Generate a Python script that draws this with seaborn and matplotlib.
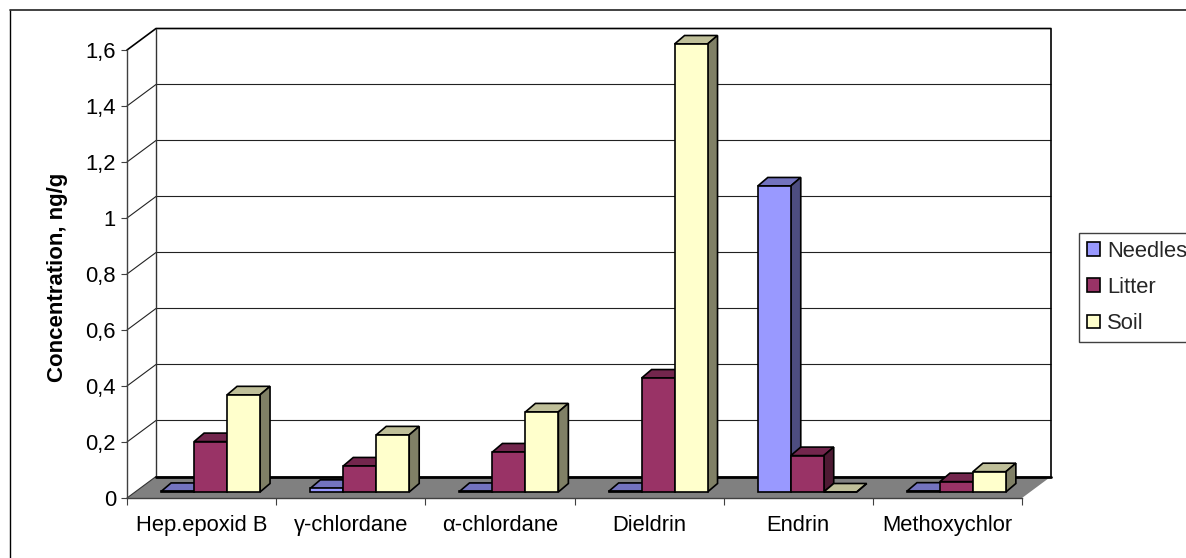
import matplotlib
matplotlib.use("Agg")
import matplotlib.pyplot as plt
import pandas as pd
import seaborn as sns
from matplotlib.lines import Line2D
from matplotlib.patches import Polygon

compounds = ["Hep.epoxid B", "γ-chlordane", "α-chlordane", "Dieldrin", "Endrin", "Methoxychlor"]
needles = [0.002, 0.013, 0.002, 0.002, 1.093, 0.003]
litter = [0.18, 0.093, 0.143, 0.407, 0.13, 0.037]
soil = [0.347, 0.204, 0.286, 1.6, 0.0, 0.0725]
y_ticks = [0, 0.2, 0.4, 0.6, 0.8, 1, 1.2, 1.4, 1.6]
y_tick_labels = ["0", "0,2", "0,4", "0,6", "0,8", "1", "1,2", "1,4", "1,6"]

# front, top and side colours of the fake 3d bars
front = {"Needles": "#9999FF", "Litter": "#993366", "Soil": "#FFFFCC"}
top = {"Needles": "#7373BF", "Litter": "#73264D", "Soil": "#BFBF99"}
side = {"Needles": "#4D4D80", "Litter": "#4D1A33", "Soil": "#808066"}

W, H = 1186, 558
df = pd.DataFrame({"compound": compounds, "Needles": needles, "Litter": litter, "Soil": soil})
long_df = df.melt(id_vars="compound", var_name="medium", value_name="conc")

sns.set_theme(style="white")
plt.rcParams["font.family"] = ["Liberation Sans", "DejaVu Sans"]

fig = plt.figure(figsize=(W / 100, H / 100), dpi=100)
ax = fig.add_axes([127 / W, 1 - 498 / H, (1022 - 127) / W, (498 - 50) / H])

sns.barplot(data=long_df, x="compound", y="conc", hue="medium", palette=front,
            hue_order=list(front), width=0.663, gap=0, saturation=1, edgecolor="black",
            linewidth=1.2, ax=ax, zorder=3, clip_on=False)
ax.set_xlim(-0.5, 5.5)
ax.set_ylim(0, 1.6)

# pixels to data units
px_x = 6 / (1022 - 127)
px_y = 1.6 / (498 - 50)
wall_dx, wall_dy = 29 * px_x, 21.5 * px_y
shift_x, shift_y = 9 * px_x, 6 * px_y
bar_dx, bar_dy = 10 * px_x, 8.5 * px_y
x0, x1 = -0.5, 5.5

# floor and walls
ax.add_patch(Polygon([(x0, 0), (x1, 0), (x1 + wall_dx, wall_dy), (x0 + wall_dx, wall_dy)],
                     facecolor="#808080", edgecolor="none", clip_on=False, zorder=1))
for v in y_ticks[1:-1]:
    ax.plot([x0, x0 + wall_dx, x1 + wall_dx], [v, v + wall_dy, v + wall_dy],
            color="#222222", lw=0.8, clip_on=False, zorder=0.5)
ax.plot([x0, x0 + wall_dx, x1 + wall_dx, x1 + wall_dx], [1.6, 1.6 + wall_dy, 1.6 + wall_dy, wall_dy],
        color="black", lw=1.2, clip_on=False, zorder=0.6)
ax.plot([x0 + wall_dx, x0 + wall_dx], [wall_dy, 1.6 + wall_dy], color="#333333", lw=1,
        clip_on=False, zorder=0.6)
ax.plot([x0, x0 + wall_dx], [0, wall_dy], color="#333333", lw=0.8, clip_on=False, zorder=1.1)
ax.plot([x0 + wall_dx, x1 + wall_dx], [wall_dy, wall_dy], color="black", lw=2,
        clip_on=False, zorder=1.1)

# extrude every seaborn bar, left to right so the fronts cover the sides
media = list(front)
bars = [(p, media[i // len(compounds)]) for i, p in enumerate(ax.patches[:3 * len(compounds)])]
bars.sort(key=lambda b: b[0].get_x())
for i, (bar, medium) in enumerate(bars):
    z = 3 + i * 0.01
    bar.set_x(bar.get_x() + shift_x)
    bar.set_y(shift_y)
    bar.set_zorder(z + 0.002)
    bar.set_joinstyle("miter")
    l = bar.get_x()
    r = l + bar.get_width()
    b = bar.get_y()
    t = b + bar.get_height()
    ax.add_patch(Polygon([(l, t), (r, t), (r + bar_dx, t + bar_dy), (l + bar_dx, t + bar_dy)],
                         facecolor=top[medium], edgecolor="black", lw=1.2, clip_on=False, zorder=z))
    ax.add_patch(Polygon([(r, b), (r + bar_dx, b + bar_dy), (r + bar_dx, t + bar_dy), (r, t)],
                         facecolor=side[medium], edgecolor="black", lw=1.2, clip_on=False, zorder=z))

# axes
sns.despine(ax=ax, top=True, right=True)
for s in ["left", "bottom"]:
    ax.spines[s].set_color("#404040")
    ax.spines[s].set_linewidth(1)
ax.set_yticks(y_ticks, y_tick_labels)
ax.set_xticks(range(len(compounds)), compounds)
ax.set_xticks([x0 + i for i in range(len(compounds) + 1)], minor=True)
ax.tick_params(axis="x", which="major", length=0, pad=12.5, labelsize=15.8, colors="black")
ax.tick_params(axis="x", which="minor", length=5, width=0.8, color="#404040", bottom=True)
ax.tick_params(axis="y", length=4, width=0.8, pad=4, labelsize=15.8, color="#404040",
               labelcolor="black", left=True)
ax.set_xlabel("")
ax.set_ylabel("")
fig.text(57.5 / W, 1 - 277 / H, "Concentration, ng/g", rotation=90, fontsize=16, fontweight="bold",
         ha="center", va="center", color="black")

# legend
handles, labels = ax.get_legend_handles_labels()
leg = ax.legend(handles, labels, loc="upper left", bbox_to_anchor=(1079 / W, 1 - 232.5 / H),
                bbox_transform=fig.transFigure, fontsize=15.8, frameon=True, fancybox=False,
                framealpha=1, edgecolor="#404040", borderpad=0.37, labelspacing=0.7,
                handlelength=0.59, handleheight=0.59, handletextpad=0.33, borderaxespad=0)
leg.get_frame().set_linewidth(1)
for h in leg.legend_handles:
    h.set_edgecolor("black")
    h.set_linewidth(1.2)

# chart area frame, cut by the image edge on the right and bottom
fig.add_artist(Line2D([10 / W, 10 / W], [0, 1 - 10 / H], color="black", lw=1))
fig.add_artist(Line2D([10 / W, 1], [1 - 10 / H, 1 - 10 / H], color="#333333", lw=1.3))

fig.savefig("out.png", dpi=100)
plt.close(fig)
